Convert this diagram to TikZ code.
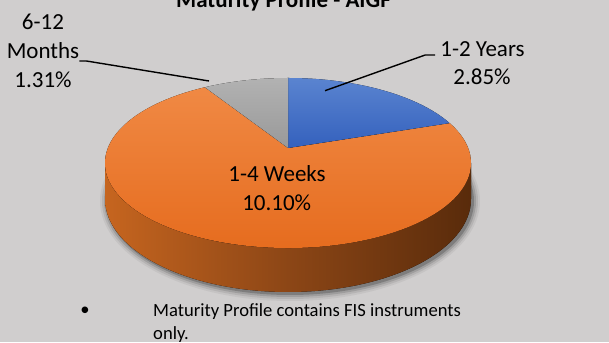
\documentclass[tikz,border=0pt]{standalone}
\usepackage{fontspec}
\setmainfont{Carlito}
\usetikzlibrary{positioning,calc}
\definecolor{bgGrey}{HTML}{D0CECE}
\definecolor{orangeT}{HTML}{F08944}
\definecolor{orangeB}{HTML}{E56A1C}
\definecolor{blueT}{HTML}{5A84D0}
\definecolor{blueB}{HTML}{3461BD}
\definecolor{greyT}{HTML}{B2B2B2}
\definecolor{greyB}{HTML}{999999}
\definecolor{sideL}{HTML}{C6651F}
\definecolor{sideM}{HTML}{8C4616}
\definecolor{sideR}{HTML}{592B0B}
\tikzset{
  lbl/.style={inner sep=0pt,font=\fontsize{23}{28}\selectfont},
  note/.style={inner sep=0pt,font=\fontsize{18.6}{23}\selectfont},
  leader/.style={line width=1.4pt,black}
}

\begin{document}
\begin{tikzpicture}[x=1pt,y=1pt]
% Page of 609 by 342

% Background
\useasboundingbox (0,0) rectangle (609,342);
\fill[bgGrey] (0,0) rectangle (609,342);

% Coordinates of pie
\coordinate (C) at (288,179);
\coordinate (A) at (288,194);
\coordinate (T) at (288,264);

% Soft shadow under the rim
\foreach \r/\o in {7/0.05,5/0.08,3/0.12,1/0.2} {
  \fill[black,opacity=\o] (290,141) ellipse [x radius={183+\r}, y radius={93+\r}];
}

% Rim of pie
\fill[left color=sideL,right color=sideR,middle color=sideM]
  (105,179) -- (105,143)
  arc [start angle=180,end angle=360,x radius=183,y radius=93]
  -- (471,179)
  arc [start angle=0,end angle=-180,x radius=183,y radius=85] -- cycle;

% Slices on top face
\fill[top color=orangeT,bottom color=orangeB] (A) -- ($(C)+(117:183 and 85)$)
  arc [start angle=117,end angle=388,x radius=183,y radius=85] -- cycle;
\fill[top color=blueT,bottom color=blueB] (A) -- (T)
  arc [start angle=90,end angle=28,x radius=183,y radius=85] -- cycle;
\fill[top color=greyT,bottom color=greyB] (A) -- (T)
  arc [start angle=90,end angle=117,x radius=183,y radius=85] -- cycle;

% Title
\node[lbl,font=\fontsize{23}{28}\selectfont\bfseries,anchor=base] (title) at (283.5,334) {Maturity Profile - AIGF};

% Labels
\node[lbl,anchor=base] (monthsA) at (43,312.5) {6-12};
\node[lbl,anchor=base] (monthsB) at (43,283.5) {Months};
\node[lbl,anchor=base] (monthsC) at (43,254.5) {1.31\%};
\node[lbl,anchor=base] (yearsA) at (482.5,285) {1-2 Years};
\node[lbl,anchor=base] (yearsB) at (482,257) {2.85\%};
\node[lbl,anchor=base] (weeksA) at (277,160.3) {1-4 Weeks};
\node[lbl,anchor=base] (weeksB) at (276.7,131) {10.10\%};

% Leader lines
\coordinate (greyTip) at (209,261);
\coordinate (blueTip) at (325,251.3);
\draw[leader] ([yshift=-2.5pt]monthsB.base east) -- ++(7,0) -- (greyTip);
\draw[leader] ([xshift=-5pt,yshift=2pt]yearsA.base west) -- ++(-10,0) -- (blueTip);

% Note at the foot
\node[note] (dot) at (85,31) {\textbullet};
\node[note,anchor=base west] (noteA) at (153,26) {Maturity Profile contains FIS instruments};
\node[note,anchor=base west] (noteB) at (153,2) {only.};
\end{tikzpicture}
\end{document}
